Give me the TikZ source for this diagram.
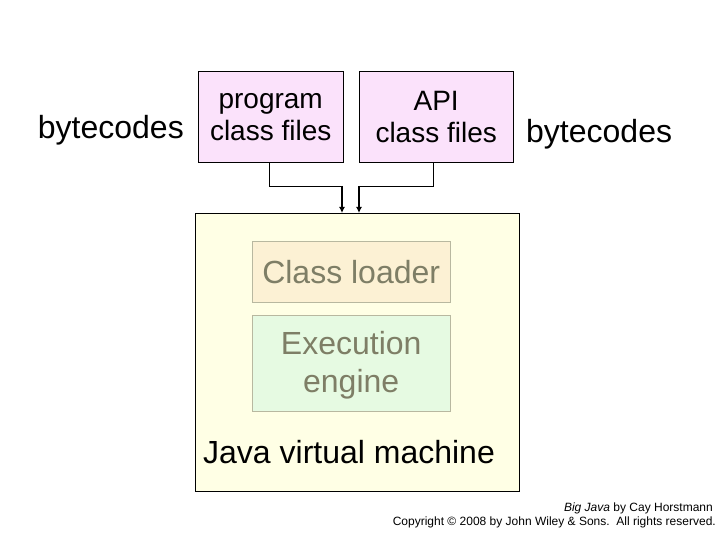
\documentclass[tikz,border=0pt]{standalone}
\usepackage{fontspec}
\usetikzlibrary{arrows.meta}
\setmainfont{Liberation Sans}
\definecolor{pinkfill}{HTML}{FBE2FB}
\definecolor{jvmfill}{HTML}{FFFFE5}
\definecolor{loaderfill}{HTML}{FCF1D4}
\definecolor{enginefill}{HTML}{E6FAE2}
\definecolor{innergray}{HTML}{7E7E66}
\definecolor{innerborder}{HTML}{B8B8A0}
\begin{document}
\begin{tikzpicture}[x=1pt,y=-1pt,
  box/.style={draw, inner sep=0pt, anchor=north west, align=center},
  grayt/.style={text=innergray},
  conn/.style={draw, line width=0.8pt},
  arr/.style={draw, line width=1.8pt, -{Latex[length=6pt,width=6pt]}}]
\useasboundingbox[fill=white] (0,0) rectangle (720,540);
\node[box, fill=pinkfill, minimum width=145pt, minimum height=91pt, font=\fontsize{28}{32}\selectfont] (prog) at (198,71) {program\\class files};
\node[box, fill=pinkfill, minimum width=154pt, minimum height=91pt, font=\fontsize{28}{32}\selectfont] (api) at (359,71) {API\\class files};
\node[font=\fontsize{32}{36}\selectfont, anchor=east, inner sep=0pt] (bl) at (184,130) {bytecodes};
\node[font=\fontsize{32}{36}\selectfont, anchor=west, inner sep=0pt] (br) at (526,134) {bytecodes};
\node[box, fill=jvmfill, minimum width=324pt, minimum height=278pt] (jvm) at (195,213) {};
\node[box, fill=loaderfill, draw=innerborder, minimum width=198pt, minimum height=61pt, font=\fontsize{32}{36}\selectfont, grayt] (loader) at (252,241) {Class loader};
\node[box, fill=enginefill, draw=innerborder, minimum width=198pt, minimum height=96pt, font=\fontsize{32}{38}\selectfont, grayt, text depth=2pt] (engine) at (252,315) {Execution\\engine};
\node[font=\fontsize{32}{36}\selectfont, anchor=west, inner sep=0pt] (jvmlabel) at (203,452) {Java virtual machine};
\coordinate (p1) at (269,186);
\coordinate (p2) at (342,186);
\coordinate (q1) at (433,186);
\coordinate (q2) at (359,186);
\draw[conn] (prog.south -| p1) -- (p1) -- (p2);
\draw[arr] (p2) -- (p2 |- jvm.north);
\draw[conn] (api.south -| q1) -- (q1) -- (q2);
\draw[arr] (q2) -- (q2 |- jvm.north);
\node[font=\fontsize{12}{14}\selectfont, anchor=east, inner sep=0pt] (credit1) at (713,508) {\textit{Big Java} by Cay Horstmann};
\node[font=\fontsize{12}{14}\selectfont, anchor=east, inner sep=0pt] (credit2) at (716,522) {Copyright © 2008 by John Wiley \& Sons.\ \ All rights reserved.};
\end{tikzpicture}
\end{document}
